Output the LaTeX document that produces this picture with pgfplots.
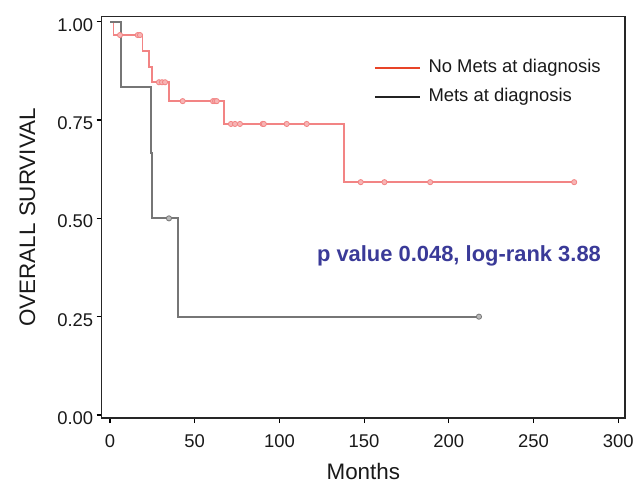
\documentclass[border=0pt]{standalone}
\usepackage{fontspec}
\setmainfont{Liberation Sans}
\usepackage{pgfplots}
\pgfplotsset{compat=1.18}

\definecolor{nomets}{RGB}{242,132,132}
\definecolor{mets}{RGB}{118,118,118}
\definecolor{keyred}{RGB}{232,68,40}
\definecolor{keyblack}{RGB}{35,35,35}
\definecolor{ptext}{RGB}{58,58,152}

\begin{document}
\begin{tikzpicture}
\begin{axis}[
  at={(0,0)}, anchor=south west,
  scale only axis,
  width=523.3bp, height=401.3bp,
  xmin=-4.9, xmax=304, ymin=-0.0076, ymax=1.0127,
  xtick={0,50,...,300},
  ytick={0,0.25,0.5,0.75,1},
  yticklabel style={yshift=-3bp, /pgf/number format/.cd,fixed,fixed zerofill,precision=2},
  /pgf/number format/assume math mode=true,
  tick align=outside,
  xtick pos=bottom, ytick pos=left,
  major tick length=5bp,
  tick style={line width=1.2bp, black},
  axis line style={line width=1.2bp, black!85},
  ticklabel style={font=\fontsize{18.5}{22}\selectfont, text=black!90},
  xticklabel style={yshift=-8bp},
  xlabel={Months},
  ylabel={OVERALL SURVIVAL},
  label style={font=\fontsize{22.5}{26}\selectfont, text=black!90},
  xlabel style={yshift=-9bp},
  ylabel style={yshift=15bp},
  clip=false,
]
% No Mets at diagnosis
\addplot[const plot, nomets, line width=1.7bp] coordinates {
  (0,1) (2,0.966) (19.1,0.925) (23.2,0.885) (24.6,0.846) (35,0.798)
  (67.3,0.740) (138.3,0.592) (274,0.592)};
\addplot[only marks, mark=*, mark size=2.6bp,
  mark options={draw=nomets, fill=nomets!60, line width=0.8bp}] coordinates {
  (5.9,0.966) (16.4,0.966) (17.7,0.966)
  (28.9,0.846) (30.7,0.846) (32.5,0.846)
  (42.9,0.798) (60.8,0.798) (62,0.798) (63,0.798)
  (71.4,0.740) (73.8,0.740) (76.7,0.740) (90.1,0.740) (90.8,0.740)
  (104.3,0.740) (116.1,0.740)
  (148,0.592) (162,0.592) (189,0.592) (274,0.592)};

% Mets at diagnosis
\addplot[const plot, mets, line width=1.8bp] coordinates {
  (0,1) (6.3,0.833) (24,0.667) (25,0.5) (40.3,0.25) (217.8,0.25)};
\addplot[only marks, mark=*, mark size=2.6bp,
  mark options={draw=mets, fill=mets!50, line width=0.8bp}] coordinates {
  (34.8,0.5) (217.8,0.25)};

% legend
\draw[draw=keyred, line width=1.8bp] (axis cs:156.4,0.882) -- (axis cs:183,0.882);
\node[anchor=west, inner sep=0pt, font=\fontsize{18.5}{22}\selectfont, text=black!90]
  at (axis cs:187.9,0.884) {No Mets at diagnosis};
\draw[draw=keyblack, line width=1.8bp] (axis cs:156.4,0.809) -- (axis cs:183,0.809);
\node[anchor=west, inner sep=0pt, font=\fontsize{18.5}{22}\selectfont, text=black!90]
  at (axis cs:187.9,0.809) {Mets at diagnosis};

\node[font=\fontsize{22}{26}\selectfont\bfseries, text=ptext] at (axis cs:206,0.404)
  {p value 0.048, log-rank 3.88};
\end{axis}
\pgfresetboundingbox
\path (-101.7bp,-68bp) rectangle (542.3bp,418bp);
\end{tikzpicture}
\end{document}
